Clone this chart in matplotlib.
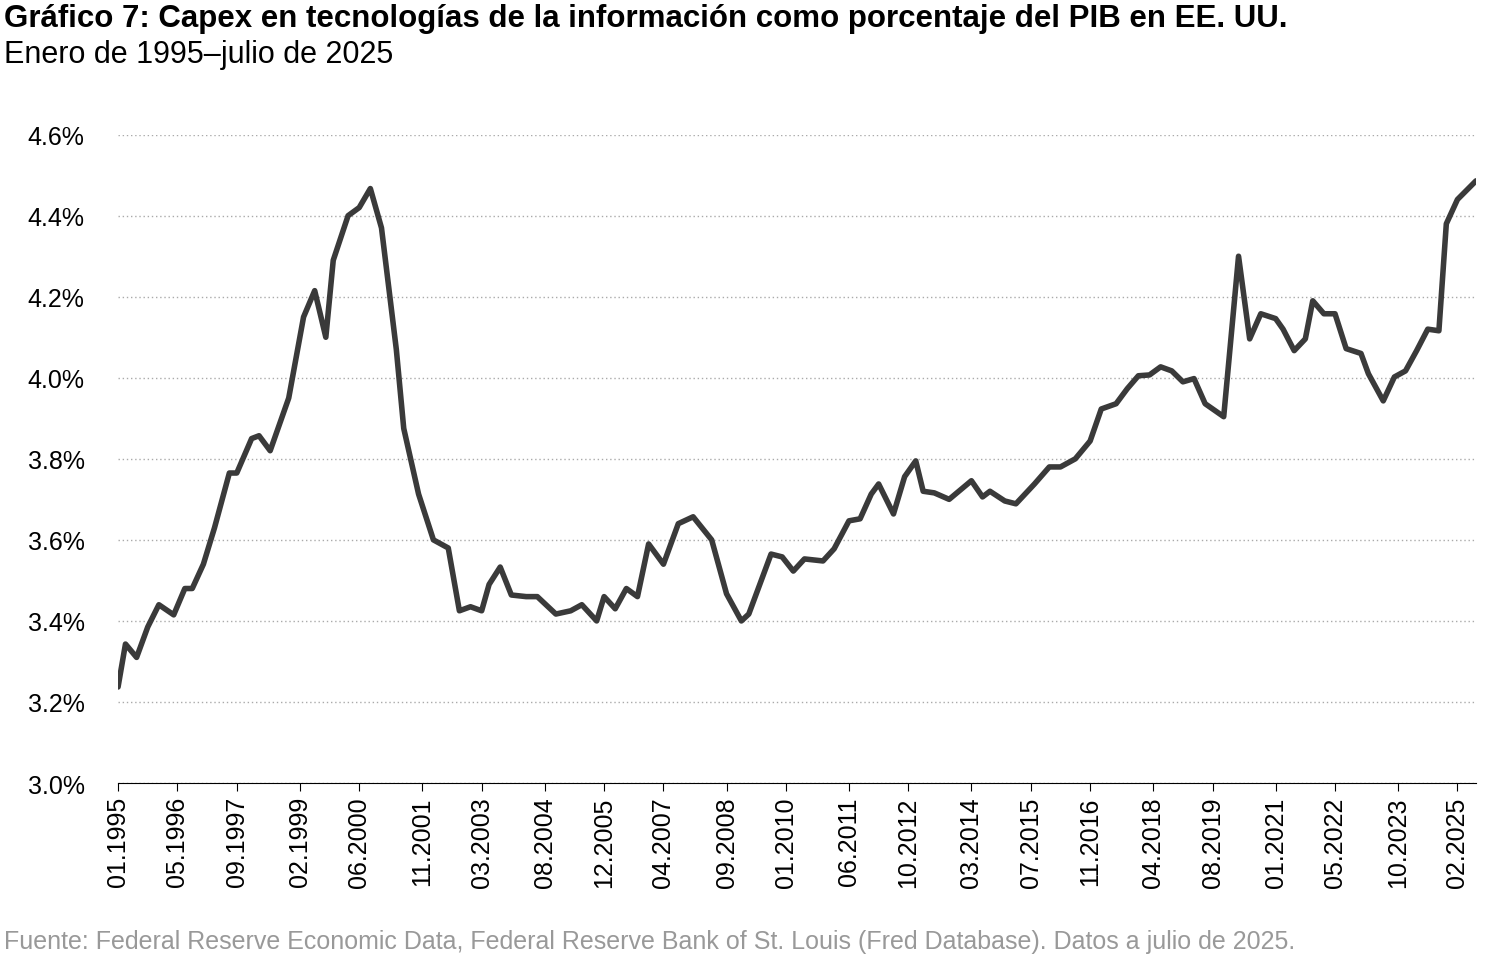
import matplotlib
matplotlib.use("Agg")
import matplotlib.pyplot as plt
from matplotlib.ticker import FuncFormatter

plt.rcParams['font.family'] = ['Liberation Sans', 'DejaVu Sans']

# months since Jan 1995
months = [0,2,5,8,11,15,18,20,23,26,30,32,36,38,41,46,50,53,56,58,62,65,68,71,75,77,81,85,89,92,95,98,100,103,106,110,113,118,122,125,129,131,134,137,140,143,147,151,155,160,164,168,170,176,179,182,185,190,193,197,200,203,205,209,212,215,217,220,224,230,233,235,239,242,247,251,254,258,262,265,269,272,275,278,281,284,287,290,293,298,302,305,308,312,314,317,320,322,325,328,331,335,337,341,344,347,350,353,356,358,361,366]
values = [3.237,3.343,3.31,3.385,3.44,3.415,3.48,3.48,3.54,3.63,3.765,3.765,3.85,3.857,3.82,3.95,4.15,4.215,4.10,4.29,4.40,4.42,4.467,4.37,4.07,3.875,3.713,3.60,3.58,3.425,3.435,3.425,3.49,3.533,3.464,3.46,3.46,3.417,3.425,3.44,3.40,3.46,3.43,3.48,3.46,3.59,3.54,3.64,3.657,3.60,3.467,3.40,3.417,3.565,3.558,3.523,3.553,3.548,3.578,3.647,3.652,3.713,3.738,3.664,3.756,3.795,3.72,3.716,3.70,3.746,3.706,3.72,3.696,3.689,3.738,3.78,3.78,3.80,3.844,3.923,3.936,3.973,4.005,4.007,4.027,4.017,3.99,3.998,3.936,3.904,4.30,4.096,4.158,4.146,4.12,4.067,4.096,4.19,4.158,4.158,4.072,4.06,4.01,3.943,4.002,4.017,4.067,4.12,4.116,4.38,4.44,4.486]

tick_labels = ["01.1995","05.1996","09.1997","02.1999","06.2000","11.2001","03.2003","08.2004",
               "12.2005","04.2007","09.2008","01.2010","06.2011","10.2012","03.2014","07.2015",
               "11.2016","04.2018","08.2019","01.2021","05.2022","10.2023","02.2025"]
tick_months = [(int(s[3:]) - 1995) * 12 + int(s[:2]) - 1 for s in tick_labels]
y_ticks = [3.0, 3.2, 3.4, 3.6, 3.8, 4.0, 4.2, 4.4, 4.6]

fig = plt.figure(figsize=(15, 9.62), dpi=100)
ax = fig.add_axes([0.0787, 0.185, 0.9053, 0.674])
ax.plot(months, values, color='#3a3a3a', lw=4, solid_capstyle='round', solid_joinstyle='round')
ax.set_xlim(0, 366)
ax.set_ylim(3.0, 4.6)
ax.set_yticks(y_ticks)
ax.yaxis.set_major_formatter(FuncFormatter(lambda v, p: f"{v:.1f}%"))
ax.set_xticks(tick_months)
ax.set_xticklabels(tick_labels, rotation=90)
ax.tick_params(axis='both', labelsize=18, colors='black')
ax.tick_params(axis='y', length=0, pad=24)
ax.tick_params(axis='x', length=6, color='black')
for s in ['top', 'right', 'left']:
    ax.spines[s].set_visible(False)
ax.spines['bottom'].set_color('black')
ax.grid(axis='y', linestyle=(0, (1, 2)), color='#aaaaaa', lw=1)
ax.set_axisbelow(True)

fig.text(0.003, 0.965, "Gráfico 7: Capex en tecnologías de la información como porcentaje del PIB en EE. UU.",
         fontsize=22.5, fontweight='bold', va='bottom')
fig.text(0.003, 0.927, "Enero de 1995–julio de 2025", fontsize=22, va='bottom')
fig.text(0.003, 0.008, "Fuente: Federal Reserve Economic Data, Federal Reserve Bank of St. Louis (Fred Database). Datos a julio de 2025.",
         fontsize=18, color='#999999', va='bottom')
fig.savefig("out.png", dpi=100)
